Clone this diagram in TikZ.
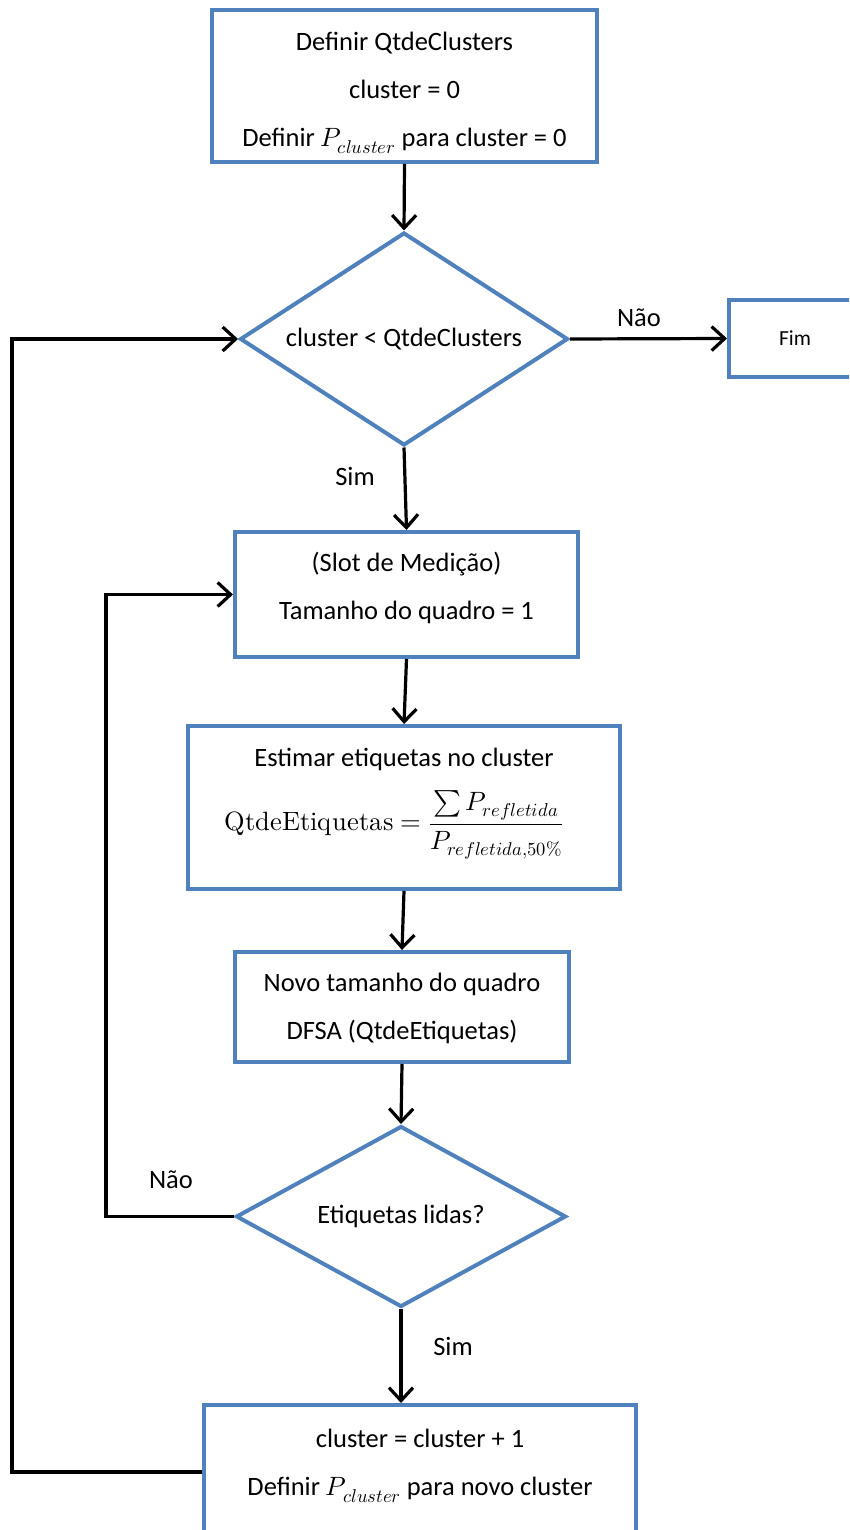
\documentclass[tikz,border=0pt]{standalone}
\usepackage{fontspec}
\usepackage{unicode-math}
\setmainfont{Carlito}
\setmathfont{Latin Modern Math}
\usetikzlibrary{arrows.meta,shapes.geometric,calc}
\definecolor{boxblue}{RGB}{79,129,189}
\newcommand{\tcell}[2]{\raisebox{#1}[0pt][0pt]{\begin{tabular}{@{}c@{}}#2\end{tabular}}}
\begin{document}
\begin{tikzpicture}[x=1pt,y=-1pt,
  every node/.style={font=\fontsize{26.5}{48}\selectfont},
  stepbox/.style={draw=boxblue,line width=4pt,fill=white,rectangle,align=center,inner sep=0pt},
  decision/.style={draw=boxblue,line width=4pt,fill=white,diamond,inner sep=0pt,align=center},
  conn/.style={line width=3.2pt,black,-{Straight Barb[length=13pt,width=24pt]}},
  lbl/.style={inner sep=0pt}]
\useasboundingbox (0,0) rectangle (849,1530);
\clip (0,0) rectangle (849,1530);
% nodes
\node[stepbox,minimum width=385,minimum height=152] (b1) at (404.5,86)
  {\tcell{-10pt}{Definir QtdeClusters\\cluster = 0\\Definir $P_{cluster}$ para cluster = 0}};
\node[decision,aspect=1.54,minimum width=328,minimum height=213] (d1) at (404,339) {cluster < QtdeClusters};
\node[stepbox,minimum width=132,minimum height=77,font=\fontsize{21.5}{25}\selectfont] (fim) at (795,338.5) {Fim};
\node[stepbox,minimum width=343,minimum height=125] (b2) at (406.5,594.5)
  {\tcell{1.5pt}{(Slot de Medição)\\Tamanho do quadro = 1}};
\node[stepbox,minimum width=432,minimum height=163] (b3) at (404,807.5)
  {\tcell{4.5pt}{Estimar etiquetas no cluster\\[9pt]
   $\displaystyle \symup{QtdeEtiquetas}=\frac{\textstyle\sum P_{refletida}}{P_{refletida,50\%}}$\hspace*{20pt}}};
\node[stepbox,minimum width=334,minimum height=110] (b4) at (402,1007)
  {\tcell{-6pt}{Novo tamanho do quadro\\DFSA (QtdeEtiquetas)}};
\node[decision,aspect=1.82,minimum width=330,minimum height=181] (d2) at (401,1216.5) {Etiquetas lidas?};
\node[stepbox,minimum width=432,minimum height=150] (b5) at (420,1480)
  {\tcell{11.5pt}{cluster = cluster + 1\\Definir $P_{cluster}$ para novo cluster}};
% labels
\node[lbl] (l1) at (639,318) {Não};
\node[lbl] (l2) at (355,476) {Sim};
\node[lbl] (l3) at (171,1180) {Não};
\node[lbl] (l4) at (453,1346) {Sim};
% corner coordinates
\coordinate (c1) at (12,1472);
\coordinate (c2) at (106,1218);
% connectors
\draw[conn] (b1.south) -- (d1.north);
\draw[conn] (d1.east) -- (fim.west);
\draw[conn] (d1.south) -- (b2.north);
\draw[conn] (b2.south) -- (b3.north);
\draw[conn] (b3.south) -- (b4.north);
\draw[conn] (b4.south) -- (d2.north);
\draw[conn] (d2.south) -- (d2.south |- b5.north);
\draw[conn] (d2.west) -- (d2.west -| c2) |- (b2.west);
\draw[conn] (b5.west |- c1) -- (c1) |- (d1.west);
\end{tikzpicture}
\end{document}
